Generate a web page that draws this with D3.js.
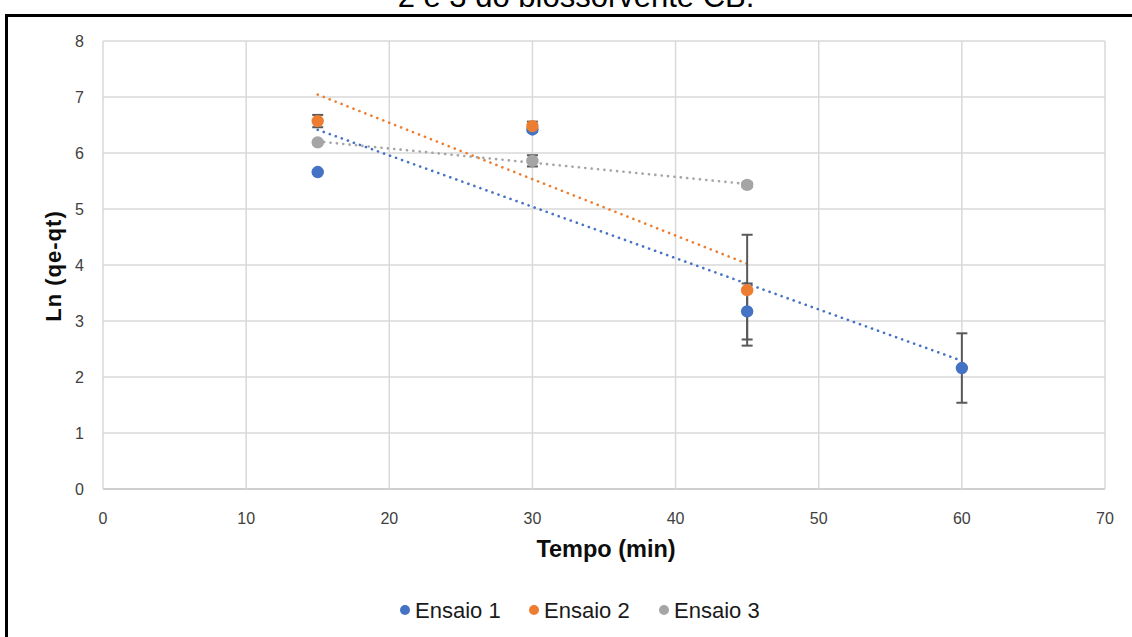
<!DOCTYPE html>
<html>
<head>
<meta charset="utf-8">
<script src="https://cdn.jsdelivr.net/npm/d3@7"></script>
<style>
  body { margin: 0; background: #fff; }
  svg { display: block; }
</style>
</head>
<body>
<div id="chart"></div>
<script>
// Data
var seriesNames = ["Ensaio 1", "Ensaio 2", "Ensaio 3"];
var seriesColors = ["#4472C4", "#ED7D31", "#A5A5A5"];
var tempo1 = [15, 30, 45, 60];
var ln1 = [5.66, 6.42, 3.17, 2.16];
var err1 = [0.03, 0.04, 0.5, 0.62];
var tempo2 = [15, 30, 45];
var ln2 = [6.57, 6.48, 3.55];
var err2 = [0.11, 0.08, 0.99];
var tempo3 = [15, 30, 45];
var ln3 = [6.19, 5.86, 5.43];
var err3 = [0.02, 0.1, 0.04];
var xTicks = [0, 10, 20, 30, 40, 50, 60, 70];
var yTicks = [0, 1, 2, 3, 4, 5, 6, 7, 8];

var drawChart = function() {
    const width = 1132, height = 637;
    const fontFamily = "'Liberation Sans', Arial, sans-serif";

    var svg = d3.select("#chart").append("svg")
        .attr("width", width)
        .attr("height", height);

    // title, cropped by the top edge as in the source picture
    svg.append("text")
        .attr("x", 576)
        .attr("y", 7)
        .attr("text-anchor", "middle")
        .attr("font-family", fontFamily)
        .attr("font-size", 31)
        .attr("fill", "#000")
        .text("2 e 3 do biossorvente CB.");

    // black frame of the chart object
    svg.append("rect")
        .attr("x", 6.5)
        .attr("y", 15.5)
        .attr("width", 1140)
        .attr("height", 640)
        .attr("fill", "#fff")
        .attr("stroke", "#000")
        .attr("stroke-width", 3);

    var x = d3.scaleLinear().domain([0, 70]).range([103, 1105]);
    var y = d3.scaleLinear().domain([0, 8]).range([489, 41]);

    // grid
    var grid = svg.append("g");
    grid.selectAll(".hgrid").data(yTicks).enter().append("line")
        .attr("x1", x(0)).attr("x2", x(70))
        .attr("y1", function(d) { return y(d); })
        .attr("y2", function(d) { return y(d); })
        .attr("stroke", function(d) { return d === 0 ? "#bfbfbf" : "#d9d9d9"; })
        .attr("stroke-width", 1.5);
    grid.selectAll(".vgrid").data(xTicks).enter().append("line")
        .attr("y1", y(0)).attr("y2", y(8))
        .attr("x1", function(d) { return x(d); })
        .attr("x2", function(d) { return x(d); })
        .attr("stroke", "#d9d9d9")
        .attr("stroke-width", 1.5);

    // tick labels
    svg.append("g").selectAll("text").data(yTicks).enter().append("text")
        .attr("x", 84)
        .attr("y", function(d) { return y(d); })
        .attr("dy", "0.35em")
        .attr("text-anchor", "end")
        .attr("font-family", fontFamily)
        .attr("font-size", 16)
        .attr("fill", "#404040")
        .text(function(d) { return d; });
    svg.append("g").selectAll("text").data(xTicks).enter().append("text")
        .attr("x", function(d) { return x(d); })
        .attr("y", 524)
        .attr("text-anchor", "middle")
        .attr("font-family", fontFamily)
        .attr("font-size", 16)
        .attr("fill", "#404040")
        .text(function(d) { return d; });

    // axis titles
    svg.append("text")
        .attr("x", 606).attr("y", 557)
        .attr("text-anchor", "middle")
        .attr("font-family", fontFamily)
        .attr("font-weight", "bold")
        .attr("font-size", 23.5)
        .attr("fill", "#0d0d0d")
        .text("Tempo (min)");
    svg.append("text")
        .attr("transform", "translate(61,266) rotate(-90)")
        .attr("text-anchor", "middle")
        .attr("font-family", fontFamily)
        .attr("font-weight", "bold")
        .attr("font-size", 22)
        .attr("letter-spacing", 1)
        .attr("fill", "#0d0d0d")
        .text("Ln (qe-qt)");

    var series = [
        { xs: tempo1, ys: ln1, es: err1 },
        { xs: tempo2, ys: ln2, es: err2 },
        { xs: tempo3, ys: ln3, es: err3 }
    ];
    series.forEach(function(s, i) {
        s.color = seriesColors[i];
        s.points = s.xs.map(function(v, j) { return { x: v, y: s.ys[j], e: s.es[j] }; });
    });

    // linear trendlines (least squares fit of each series)
    var fit = function(s) {
        var mx = d3.mean(s.xs), my = d3.mean(s.ys);
        var sxy = d3.sum(s.xs, function(v, j) { return (v - mx) * (s.ys[j] - my); });
        var sxx = d3.sum(s.xs, function(v) { return (v - mx) * (v - mx); });
        var b = sxy / sxx, a = my - b * mx;
        var x0 = d3.min(s.xs), x1 = d3.max(s.xs);
        return [[x0, a + b * x0], [x1, a + b * x1]];
    };
    var line = d3.line().x(function(d) { return x(d[0]); }).y(function(d) { return y(d[1]); });

    svg.append("g").selectAll("path").data(series).enter().append("path")
        .attr("d", function(d) { return line(fit(d)); })
        .attr("fill", "none")
        .attr("stroke", function(d) { return d.color; })
        .attr("stroke-width", 2.6)
        .attr("stroke-linecap", "round")
        .attr("stroke-dasharray", "0.1 6.3");

    // error bars
    var errG = svg.append("g");
    series.forEach(function(s) {
        var g = errG.append("g");
        g.selectAll(".bar").data(s.points).enter().append("line")
            .attr("x1", function(d) { return x(d.x); })
            .attr("x2", function(d) { return x(d.x); })
            .attr("y1", function(d) { return y(d.y + d.e); })
            .attr("y2", function(d) { return y(d.y - d.e); })
            .attr("stroke", "#595959").attr("stroke-width", 2);
        [1, -1].forEach(function(sign) {
            g.selectAll(".cap" + sign).data(s.points).enter().append("line")
                .attr("x1", function(d) { return x(d.x) - 5.5; })
                .attr("x2", function(d) { return x(d.x) + 5.5; })
                .attr("y1", function(d) { return y(d.y + sign * d.e); })
                .attr("y2", function(d) { return y(d.y + sign * d.e); })
                .attr("stroke", "#595959").attr("stroke-width", 2);
        });
    });

    // markers
    series.forEach(function(s) {
        svg.append("g").selectAll("circle").data(s.points).enter().append("circle")
            .attr("cx", function(d) { return x(d.x); })
            .attr("cy", function(d) { return y(d.y); })
            .attr("r", 6.2)
            .attr("fill", s.color);
    });

    // legend
    var legendX = [405, 534, 664];
    var legend = svg.append("g").selectAll("g").data(seriesNames).enter().append("g")
        .attr("transform", function(d, i) { return "translate(" + legendX[i] + ",610)"; });
    legend.append("circle")
        .attr("r", 5)
        .attr("fill", function(d, i) { return seriesColors[i]; });
    legend.append("text")
        .attr("x", 10)
        .attr("dy", "0.35em")
        .attr("font-family", fontFamily)
        .attr("font-size", 22)
        .attr("fill", "#1a1a1a")
        .text(function(d) { return d; });
};

window.addEventListener("load", drawChart);
</script>
</body>
</html>
